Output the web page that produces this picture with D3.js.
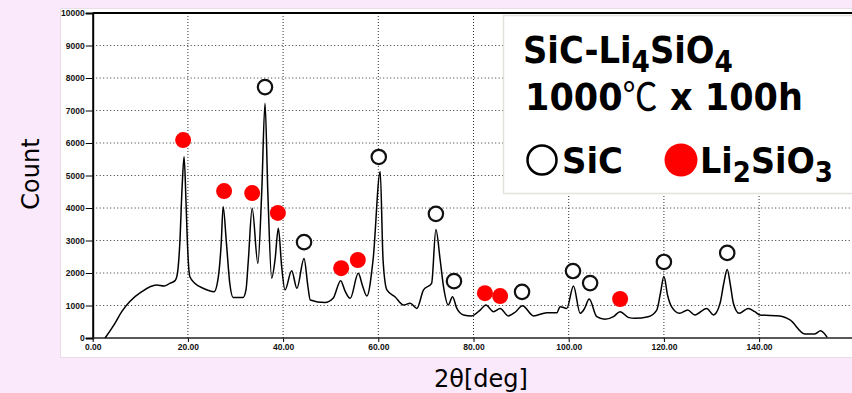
<!DOCTYPE html>
<html><head><meta charset="utf-8">
<script src="https://cdn.jsdelivr.net/npm/d3@7"></script>
<style>html,body{margin:0;padding:0;background:#fae9fa;}svg{display:block;}</style>
</head><body>
<svg id="c" width="852" height="393"></svg>
<script>
// XRD pattern, SiC-Li4SiO4 1000℃ x 100h
const twoTheta = [2.6,4.7,6.1,7.8,10.3,13.4,15.0,16.2,17.3,17.8,18.3,18.8,19.2,19.6,19.9,20.4,21.5,23.2,25.5,26.4,27.0,27.4,28.1,28.8,29.5,31.6,32.2,32.7,33.5,34.7,35.5,36.2,36.8,37.6,38.3,39.0,39.7,40.4,41.8,42.9,44.4,45.2,45.7,48.8,50.5,52.1,53.0,54.1,55.8,56.7,57.6,58.9,60.4,61.0,61.8,63.5,65.3,66.7,68.1,69.5,71.2,72.1,73.0,73.7,74.7,75.6,76.5,77.9,79.6,81.4,82.6,84.2,85.6,87.3,88.8,90.3,92.6,95.4,97.5,98.2,99.6,101.0,102.4,103.3,104.3,105.9,107.6,109.4,110.8,112.5,113.9,116.7,118.5,119.3,120.0,120.8,121.6,123.3,125.0,126.5,129.0,130.4,131.8,132.6,133.3,134.0,134.6,135.8,137.7,139.1,140.2,144.4,146.5,149.6,151.7,152.9,154.3];
const counts = [0,460,810,1120,1425,1630,1600,1680,1765,1990,2910,4700,5580,4200,2920,1890,1680,1530,1425,1890,2910,4040,2910,1680,1250,1250,1480,2400,3990,2300,4450,7220,4450,1840,2400,3375,2200,1480,2070,1530,2450,1600,1170,1090,1220,1765,1450,1220,1990,1600,1290,2400,5120,2400,1480,1270,1015,1070,910,1480,1680,3340,2400,1580,1015,1270,910,710,680,860,1015,810,910,680,800,995,680,780,780,965,910,1600,760,900,1200,655,575,655,810,635,605,655,860,1400,1890,1300,965,760,860,710,910,710,1070,1700,2110,1600,1070,760,910,810,710,680,555,125,125,225,20];

// phase markers
const sicX = [36.2,44.4,60.1,72.1,75.9,90.2,100.9,104.5,120.0,133.3];
const sicY = [7720,2950,5570,3820,1750,1420,2060,1690,2340,2620];
const liX = [19.0,27.6,33.5,38.9,52.2,55.7,82.4,85.6,110.8];
const liY = [6090,4520,4460,3850,2150,2400,1380,1290,1200];

const yTicks = [0,1000,2000,3000,4000,5000,6000,7000,8000,9000,10000];
const xTicks = [0,20,40,60,80,100,120,140];
const xTickLabels = ["0.00","20.00","40.00","60.00","80.00","100.00","120.00","140.00"];

const svg = d3.select("#c");
const x = d3.scaleLinear().domain([0,160]).range([92.7, 92.7+4.76*160]);
const y = d3.scaleLinear().domain([0,10000]).range([338,13]);

// background
svg.append("rect").attr("x",0).attr("y",0).attr("width",852).attr("height",393).attr("fill","#fae9fa");
// white plot panel
svg.append("rect").attr("x",60.5).attr("y",8.5).attr("width",800).attr("height",349)
  .attr("fill","#fff").attr("stroke","#e6dde6");

// dotted grid
const g = svg.append("g");
g.selectAll("line.h").data(yTicks.filter(d=>d>0 && d<10000)).join("line")
  .attr("x1",x(0)).attr("x2",852).attr("y1",d=>y(d)).attr("y2",d=>y(d))
  .attr("stroke","#333").attr("stroke-width",1).attr("stroke-dasharray","1,2.5");
g.selectAll("line.v").data(xTicks.filter(d=>d>0)).join("line")
  .attr("x1",d=>x(d)).attr("x2",d=>x(d)).attr("y1",y(10000)).attr("y2",y(0))
  .attr("stroke","#333").attr("stroke-width",1).attr("stroke-dasharray","1,2");

// axes
const yAxis = d3.axisLeft(y).tickValues(yTicks).tickFormat(d=>String(d)).tickSize(7).tickPadding(1);
const ya = svg.append("g").attr("transform",`translate(${x(0)},0)`).call(yAxis);
ya.select(".domain").attr("stroke","#000").attr("stroke-width",2);
ya.selectAll("text").attr("font-family","Liberation Sans").attr("font-weight","bold").attr("font-size",8.5).attr("fill","#111");
const xAxis = d3.axisBottom(x).tickValues(xTicks).tickFormat((d,i)=>xTickLabels[i]).tickSize(4).tickPadding(2);
const xa = svg.append("g").attr("transform",`translate(0,${y(0)})`).call(xAxis);
xa.select(".domain").remove();
xa.selectAll("text").attr("font-family","Liberation Sans").attr("font-weight","bold").attr("font-size",8.5).attr("fill","#111");
svg.append("line").attr("x1",x(0)).attr("x2",852).attr("y1",y(0)).attr("y2",y(0)).attr("stroke","#222").attr("stroke-width",1.6);
svg.append("line").attr("x1",x(0)).attr("x2",852).attr("y1",y(10000)).attr("y2",y(10000)).attr("stroke","#000").attr("stroke-width",2);

// pattern line
const pts = twoTheta.map((t,i)=>[t,counts[i]]);
svg.append("path").datum(pts)
  .attr("d", d3.line().x(d=>x(d[0])).y(d=>y(d[1])).curve(d3.curveMonotoneX))
  .attr("fill","none").attr("stroke","#000").attr("stroke-width",1.5);

// markers
svg.selectAll("circle.li").data(liX).join("circle")
  .attr("cx",d=>x(d)).attr("cy",(d,i)=>y(liY[i])).attr("r",8).attr("fill","#ff0000");
svg.selectAll("circle.sic").data(sicX).join("circle")
  .attr("cx",d=>x(d)).attr("cy",(d,i)=>y(sicY[i])).attr("r",7.2)
  .attr("fill","#fff").attr("stroke","#111").attr("stroke-width",2.2);

// legend box
svg.append("rect").attr("x",503.5).attr("y",15.5).attr("width",360).attr("height",178)
  .attr("fill","#fff").attr("stroke","#e2e2dc").attr("stroke-width",1.5);

function fitText(parts, px, py, targetW, fs){
  const t = svg.append("text").attr("font-family","DejaVu Sans").attr("font-weight","bold")
    .attr("font-size",fs).attr("fill","#000");
  parts.forEach(p=>{
    const s = t.append("tspan").text(p.t);
    if(p.sub){ s.attr("font-size",fs*0.78).attr("dy",p.dy); }
    if(p.back){ s.attr("dy",p.back); }
    if(p.cjk){ s.attr("font-family","Noto Sans CJK JP").attr("font-weight","normal"); }
  });
  const w = t.node().getComputedTextLength();
  t.attr("transform",`translate(${px},${py}) scale(${targetW/w},1)`);
  return t;
}
fitText([{t:"SiC-Li"},{t:"4",sub:true,dy:9},{t:"SiO",back:-9},{t:"4",sub:true,dy:9}], 523, 63, 210, 38);
fitText([{t:"1000"},{t:"℃",cjk:true},{t:" x 100h"}], 525, 110, 278, 38);
svg.append("circle").attr("cx",542).attr("cy",160).attr("r",14.5).attr("fill","#fff").attr("stroke","#000").attr("stroke-width",2.5);
fitText([{t:"SiC"}], 562, 173, 61, 36);
svg.append("circle").attr("cx",681).attr("cy",160).attr("r",16.5).attr("fill","#ff0000");
fitText([{t:"Li"},{t:"2",sub:true,dy:9},{t:"SiO",back:-9},{t:"3",sub:true,dy:9}], 700, 173, 133, 36);

// axis titles
svg.append("text").attr("transform","translate(39,174) rotate(-90)").attr("text-anchor","middle")
  .attr("font-family","DejaVu Sans").attr("font-size",24).attr("fill","#000").text("Count");
svg.append("text").attr("x",481).attr("y",387).attr("text-anchor","middle")
  .attr("font-family","DejaVu Sans").attr("font-size",24).attr("fill","#000").text("2θ[deg]");
</script>
</body></html>
